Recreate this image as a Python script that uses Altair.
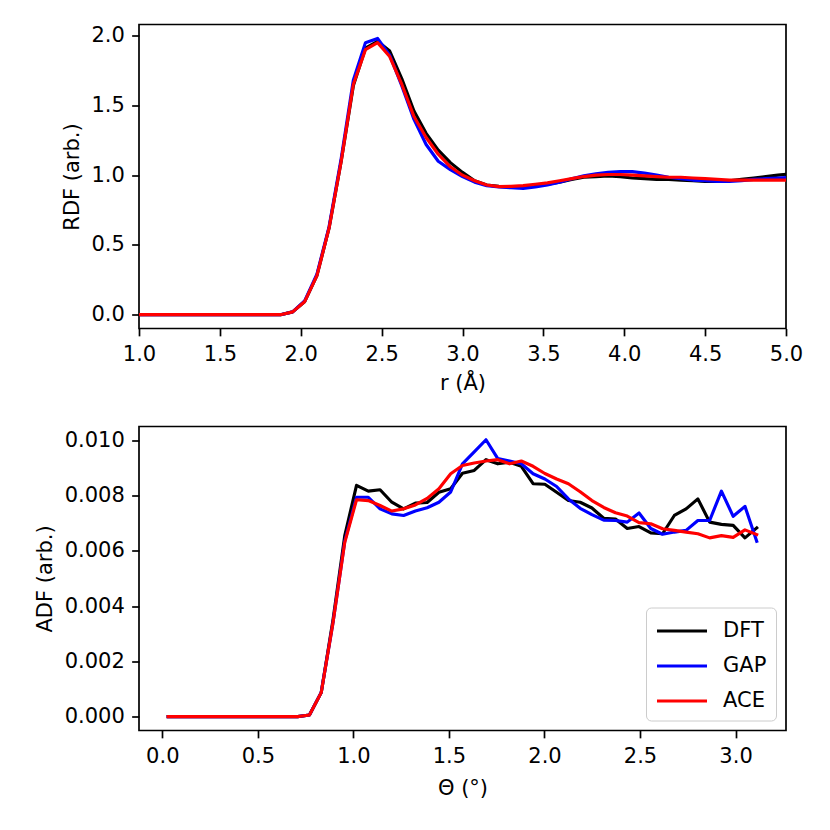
import altair as alt
import pandas as pd

# ---------------- RDF data ----------------
r_vals = [0.975, 1.05, 1.125, 1.2, 1.275, 1.35, 1.425, 1.5, 1.575, 1.65, 1.725, 1.8, 1.875,
          1.95, 2.025, 2.1, 2.175, 2.25, 2.325, 2.4, 2.475, 2.55, 2.625, 2.7, 2.775, 2.85,
          2.925, 3.0, 3.075, 3.15, 3.225, 3.3, 3.375, 3.45, 3.525, 3.6, 3.675, 3.75, 3.825,
          3.9, 3.975, 4.05, 4.125, 4.2, 4.275, 4.35, 4.425, 4.5, 4.575, 4.65, 4.725, 4.8,
          4.875, 4.95, 5.025]

rdf_zero = [0.0] * 13
rdf_dft = rdf_zero + [0.02, 0.095, 0.28, 0.62, 1.10, 1.64, 1.91, 1.96, 1.89, 1.69,
                      1.46, 1.30, 1.18, 1.09, 1.02, 0.96, 0.93, 0.92, 0.915, 0.915,
                      0.925, 0.935, 0.95, 0.97, 0.985, 0.99, 0.995, 0.99, 0.98, 0.975,
                      0.97, 0.97, 0.965, 0.96, 0.955, 0.955, 0.96, 0.97, 0.98, 0.99,
                      1.0, 1.01]
rdf_gap = rdf_zero + [0.02, 0.10, 0.29, 0.63, 1.12, 1.68, 1.95, 1.98, 1.86, 1.64,
                      1.40, 1.22, 1.10, 1.04, 0.99, 0.95, 0.925, 0.915, 0.91, 0.905,
                      0.915, 0.93, 0.95, 0.975, 0.995, 1.01, 1.02, 1.025, 1.025, 1.015,
                      1.0, 0.985, 0.975, 0.965, 0.96, 0.955, 0.955, 0.96, 0.97, 0.975,
                      0.98, 0.985]
rdf_ace = rdf_zero + [0.02, 0.095, 0.28, 0.62, 1.10, 1.65, 1.90, 1.95, 1.85, 1.65,
                      1.42, 1.27, 1.15, 1.06, 1.00, 0.96, 0.93, 0.918, 0.92, 0.925,
                      0.935, 0.945, 0.96, 0.975, 0.99, 1.0, 1.005, 1.005, 1.0, 0.995,
                      0.99, 0.985, 0.985, 0.98, 0.975, 0.97, 0.965, 0.965, 0.965, 0.965,
                      0.965, 0.965]

# ---------------- ADF data ----------------
theta_vals = [0.0308, 0.0924, 0.1540, 0.2156, 0.2772, 0.3388, 0.4004, 0.4620, 0.5236,
              0.5852, 0.6468, 0.7084, 0.7700, 0.8316, 0.8932, 0.9548, 1.0164, 1.0780,
              1.1396, 1.2012, 1.2628, 1.3244, 1.3860, 1.4476, 1.5092, 1.5708, 1.6324,
              1.6940, 1.7556, 1.8172, 1.8788, 1.9404, 2.0020, 2.0636, 2.1252, 2.1868,
              2.2484, 2.3100, 2.3716, 2.4332, 2.4948, 2.5564, 2.6180, 2.6796, 2.7412,
              2.8028, 2.8644, 2.9260, 2.9876, 3.0492, 3.1108]

adf_zero = [0.0] * 12
adf_dft = adf_zero + [0.00006, 0.00087, 0.00350, 0.00655, 0.00837, 0.00816, 0.00821,
                      0.00776, 0.00752, 0.00773, 0.00775, 0.00812, 0.00825, 0.00881,
                      0.00891, 0.00930, 0.00915, 0.00921, 0.00906, 0.00843, 0.00841,
                      0.00812, 0.00782, 0.00776, 0.00755, 0.00718, 0.00715, 0.00681,
                      0.00688, 0.00665, 0.00662, 0.00728, 0.00752, 0.00788, 0.00704,
                      0.00696, 0.00692, 0.00647, 0.00683]
adf_gap = adf_zero + [0.00006, 0.00088, 0.00340, 0.00635, 0.00794, 0.00794, 0.00752,
                      0.00734, 0.00728, 0.00744, 0.00756, 0.00776, 0.00813, 0.00915,
                      0.00958, 0.01002, 0.00934, 0.00925, 0.00915, 0.00879, 0.00860,
                      0.00833, 0.00788, 0.00754, 0.00731, 0.00711, 0.00710, 0.00704,
                      0.00737, 0.00681, 0.00660, 0.00668, 0.00674, 0.00710, 0.00710,
                      0.00816, 0.00725, 0.00761, 0.00635]
adf_ace = adf_zero + [0.00006, 0.00087, 0.00340, 0.00631, 0.00785, 0.00782, 0.00764,
                      0.00744, 0.00752, 0.00766, 0.00790, 0.00825, 0.00879, 0.00909,
                      0.00918, 0.00925, 0.00930, 0.00915, 0.00925, 0.00906, 0.00880,
                      0.00860, 0.00843, 0.00814, 0.00782, 0.00757, 0.00738, 0.00726,
                      0.00702, 0.00698, 0.00680, 0.00674, 0.00668, 0.00662, 0.00647,
                      0.00655, 0.00649, 0.00676, 0.00659]

series_names = ["DFT", "GAP", "ACE"]
series_colors = ["#000000", "#0000ff", "#ff0000"]

r_ticks = [1.0, 1.5, 2.0, 2.5, 3.0, 3.5, 4.0, 4.5, 5.0]
rdf_ticks = [0.0, 0.5, 1.0, 1.5, 2.0]
theta_ticks = [0.0, 0.5, 1.0, 1.5, 2.0, 2.5, 3.0]
adf_ticks = [0.0, 0.002, 0.004, 0.006, 0.008, 0.010]

rdf_df = pd.concat([
    pd.DataFrame({"x": r_vals, "y": v, "series": s})
    for s, v in zip(series_names, [rdf_dft, rdf_gap, rdf_ace])
], ignore_index=True)
adf_df = pd.concat([
    pd.DataFrame({"x": theta_vals, "y": v, "series": s})
    for s, v in zip(series_names, [adf_dft, adf_gap, adf_ace])
], ignore_index=True)

FONT = "DejaVu Sans"
FS = 21
W, H = 647, 304
LW = 3.15

color_scale = alt.Scale(domain=series_names, range=series_colors)

top = alt.Chart(rdf_df).mark_line(
    strokeWidth=LW, clip=True, strokeJoin="round", strokeCap="square"
).encode(
    x=alt.X("x:Q", scale=alt.Scale(domain=[1.0, 5.0], nice=False, zero=False),
            axis=alt.Axis(values=r_ticks, format=".1f", title="r (Å)")),
    y=alt.Y("y:Q", scale=alt.Scale(domain=[-0.099, 2.08], nice=False, zero=False),
            axis=alt.Axis(values=rdf_ticks, format=".1f", title="RDF (arb.)")),
    color=alt.Color("series:N", scale=color_scale, legend=None),
).properties(width=W, height=H)

bottom = alt.Chart(adf_df).mark_line(
    strokeWidth=LW, clip=True, strokeJoin="round", strokeCap="square"
).encode(
    x=alt.X("x:Q", scale=alt.Scale(domain=[-0.122, 3.264], nice=False, zero=False),
            axis=alt.Axis(values=theta_ticks, format=".1f", title="Θ (°)",
                          titlePadding=11)),
    y=alt.Y("y:Q", scale=alt.Scale(domain=[-0.0005, 0.0105], nice=False, zero=False),
            axis=alt.Axis(values=adf_ticks, format=".3f", title="ADF (arb.)")),
    color=alt.Color("series:N", scale=color_scale,
                    legend=alt.Legend(
                        title=None, orient="bottom-right", offset=10,
                        symbolType="M-1,0H3", symbolSize=625, symbolStrokeWidth=LW,
                        labelFont=FONT, labelFontSize=FS, labelColor="black",
                        labelOffset=39, rowPadding=10, padding=9,
                        fillColor="white", strokeColor="#cccccc", cornerRadius=5,
                    )),
).properties(width=W, height=H)

chart = alt.vconcat(top, bottom, spacing=98, bounds="flush").resolve_scale(
    color="independent"
).resolve_legend(color="independent").properties(
    padding={"left": 25, "top": 15.5, "right": 10, "bottom": 10}
).configure_view(
    stroke="black", strokeWidth=1.7
).configure_axis(
    labelFont=FONT, labelFontSize=FS, labelColor="black",
    titleFont=FONT, titleFontSize=FS, titleColor="black", titleFontWeight="normal",
    tickColor="black", tickSize=7.35, tickWidth=1.7, labelPadding=7.35,
    titlePadding=8.4, domain=False, grid=False, labelFlush=False, labelOverlap=False,
)

chart.save("out.html", embed_options={"renderer": "svg", "actions": False})
